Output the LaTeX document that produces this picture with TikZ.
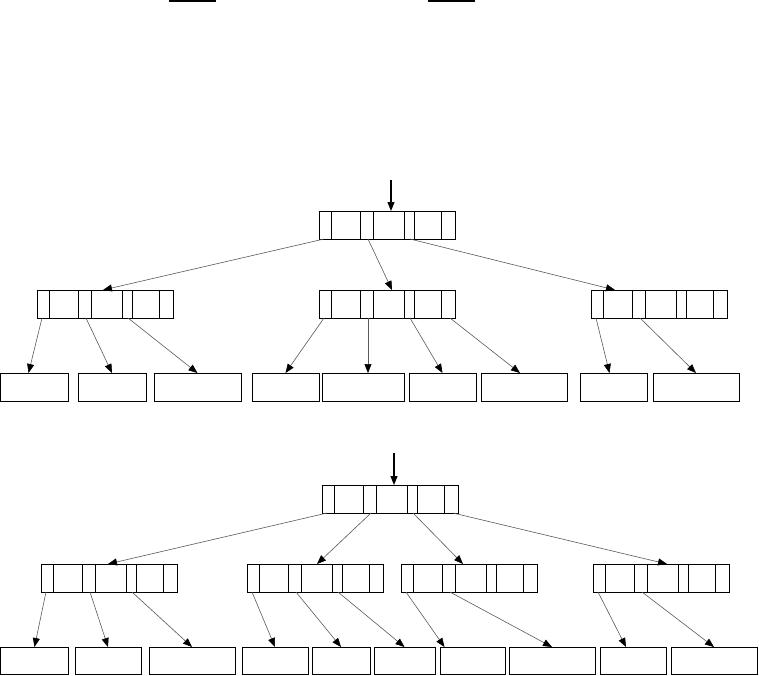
\documentclass[tikz,border=0pt]{standalone}
\usetikzlibrary{arrows.meta}

\tikzset{
  knode/.style={draw, line width=1pt, minimum height=28pt, inner sep=0pt, outer sep=0pt, anchor=north west},
  leaf/.style={draw, line width=1pt, inner sep=0pt, outer sep=0pt, anchor=north west},
  link/.style={draw=black!65, line width=0.6pt, -{Triangle[length=9pt, width=7pt, color=black]}},
  entry/.style={line width=1.1pt, -{Triangle[length=9pt, width=7pt]}},
}

% key node: name, left, top, offset of the incoming arrow
\newcommand{\keynode}[4]{%
  \node[knode, minimum width=95pt] (#1) at (#2,#3) {};
  \node[knode, minimum width=41pt] (#1x) at (#1.north east) {};
  \foreach \d in {12,41,54,85,122} \draw[line width=1pt] (#2+\d,#3) -- ++(0,28);
  \coordinate (#1-in) at (#2+#4,#3);
  \coordinate (#1-1) at (#2+5,#3+28);
  \coordinate (#1-2) at (#2+49,#3+28);
  \coordinate (#1-3) at (#2+91,#3+28);
  \coordinate (#1-4) at (#2+131,#3+28);
}

\begin{document}
\begin{tikzpicture}[x=1pt,y=-1pt]
\useasboundingbox (0,0) rectangle (759,675);

\draw[line width=1.3pt] (169,1) -- (216,1);
\draw[line width=1.3pt] (428,1) -- (475,1);

% first tree
\coordinate (topa) at (391,180);
\keynode{ra}{319}{211}{72}
\keynode{la}{37}{290}{66}
\keynode{ma}{319}{290}{73}
\keynode{na}{591}{290}{24}

\node[leaf, minimum width=68pt, minimum height=28pt] (a1) at (0.5,373) {};
\node[leaf, minimum width=68pt, minimum height=28pt] (a2) at (78,373) {};
\node[leaf, minimum width=87pt, minimum height=28pt] (a3) at (154,373) {};
\node[leaf, minimum width=67pt, minimum height=28pt] (a4) at (252,373) {};
\node[leaf, minimum width=82pt, minimum height=28pt] (a5) at (322,373) {};
\node[leaf, minimum width=67pt, minimum height=28pt] (a6) at (409,373) {};
\node[leaf, minimum width=86pt, minimum height=28pt] (a7) at (481,373) {};
\node[leaf, minimum width=67pt, minimum height=28pt] (a8) at (580,373) {};
\node[leaf, minimum width=86pt, minimum height=28pt] (a9) at (653,373) {};

\draw[entry] (topa) -- (ra-in);
\draw[link] (ra-1) -- (la-in);
\draw[link] (ra-2) -- (ma-in);
\draw[link] (ra-3) -- (na-in);
\draw[link] (la-1) -- ([xshift=-6pt]a1.north);
\draw[link] (la-2) -- (a2.north);
\draw[link] (la-3) -- (a3.north);
\draw[link] (ma-1) -- (a4.north);
\draw[link] (ma-2) -- (a5.north -| ma-2);
\draw[link] (ma-3) -- (a6.north);
\draw[link] (ma-4) -- ([xshift=-4pt]a7.north);
\draw[link] (na-1) -- ([xshift=-4pt]a8.north);
\draw[link] (na-2) -- (a9.north);

% second tree
\coordinate (topb) at (394,453);
\keynode{rb}{322}{485}{72}
\keynode{ka}{41}{564}{67}
\keynode{kb}{247}{564}{70}
\keynode{kc}{401}{564}{62}
\keynode{kd}{593}{564}{74}

\node[leaf, minimum width=68pt, minimum height=27pt] (b1) at (0.5,647) {};
\node[leaf, minimum width=66pt, minimum height=27pt] (b2) at (75,647) {};
\node[leaf, minimum width=86pt, minimum height=27pt] (b3) at (149,647) {};
\node[leaf, minimum width=66pt, minimum height=27pt] (b4) at (242,647) {};
\node[leaf, minimum width=58pt, minimum height=27pt] (b5) at (312,647) {};
\node[leaf, minimum width=61pt, minimum height=27pt] (b6) at (374,647) {};
\node[leaf, minimum width=65pt, minimum height=27pt] (b7) at (440,647) {};
\node[leaf, minimum width=86pt, minimum height=27pt] (b8) at (509,647) {};
\node[leaf, minimum width=66pt, minimum height=27pt] (b9) at (600,647) {};
\node[leaf, minimum width=86pt, minimum height=27pt] (b10) at (671,647) {};

\draw[entry] (topb) -- (rb-in);
\draw[link] (rb-1) -- (ka-in);
\draw[link] (rb-2) -- (kb-in);
\draw[link] (rb-3) -- (kc-in);
\draw[link] (rb-4) -- (kd-in);
\draw[link] (ka-1) -- (b1.north);
\draw[link] (ka-2) -- (b2.north);
\draw[link] (ka-3) -- (b3.north);
\draw[link] (kb-1) -- (b4.north);
\draw[link] (kb-2) -- (b5.north);
\draw[link] (kb-3) -- (b6.north);
\draw[link] (kc-1) -- ([xshift=-28pt]b7.north);
\draw[link] (kc-2) -- (b8.north);
\draw[link] (kd-1) -- ([xshift=-7pt]b9.north);
\draw[link] (kd-2) -- (b10.north);
\end{tikzpicture}
\end{document}
